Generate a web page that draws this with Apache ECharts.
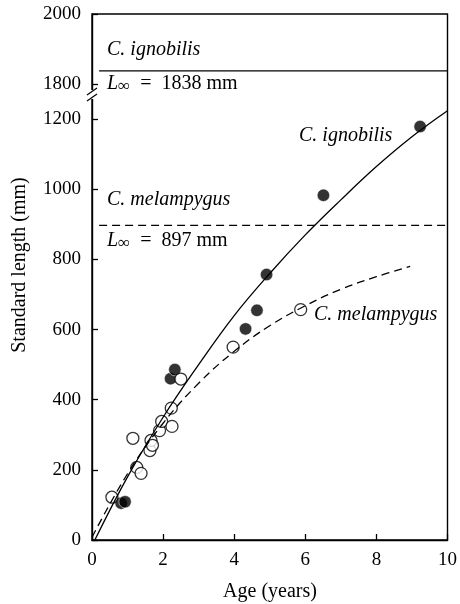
<!DOCTYPE html>
<html>
<head>
  <meta charset="utf-8">
  <title>Growth curves</title>
  <script src="https://cdn.jsdelivr.net/npm/echarts@6/dist/echarts.min.js"></script>
  <style>
    html, body { margin: 0; padding: 0; background: #fff; }
    #main { width: 460px; height: 604px; }
  </style>
</head>
<body>
  <div id="main"></div>
  <script>
    // observed fish (age in years, standard length in mm)
    var ignobilisAge = [0.82, 0.93, 2.21, 2.33, 4.32, 4.64, 4.91, 6.51, 9.23];
    var ignobilisLen = [105, 109, 460, 486, 602, 655, 757, 983, 1179];
    var melampygusAge = [0.56, 1.15, 1.26, 1.38, 1.63, 1.66, 1.70, 1.90, 1.96, 2.23, 2.25, 2.50, 3.97, 5.87];
    var melampygusLen = [122, 290, 207, 190, 255, 284, 270, 312, 338, 376, 324, 459, 550, 657];

    // fitted growth curves
    var ignobilisCurveAge = [0.08, 1, 2, 3, 4, 5, 6, 7, 8, 9, 10];
    var ignobilisCurveLen = [0, 180, 350, 500, 640, 760, 870, 970, 1065, 1150, 1224];
    var melampygusCurveAge = [0, 1, 2, 3, 4, 5, 6, 7, 8, 8.95];
    var melampygusCurveLen = [8, 189, 333, 447, 538, 611, 668, 715, 751, 780];

    // asymptotic lengths
    var ignobilisLinf = 1838;
    var melampygusLinf = 897;
    var linfAge = [0.2, 10];

    var yTicks = [0, 200, 400, 600, 800, 1000, 1200, 1800, 2000];
    var xTicks = [0, 2, 4, 6, 8, 10];

    // y axis is broken between 1250 and 1750 mm
    var BREAK_LO = 1250, BREAK_SHIFT = 500;
    function toAxis(v) { return v > BREAK_LO ? v - BREAK_SHIFT : v; }
    function fromAxis(v) { return v > BREAK_LO ? v + BREAK_SHIFT : v; }
    function pairs(xs, ys) {
      return xs.map(function (x, i) { return [x, toAxis(ys[i])]; });
    }

    var serif = '"Liberation Serif", "DejaVu Serif", serif';
    var chart = echarts.init(document.getElementById('main'), null, { renderer: 'canvas' });

    var option = {
      animation: false,
      backgroundColor: '#fff',
      grid: {
        left: 92, right: 11, top: 14, bottom: 64,
        show: true, borderColor: '#000', borderWidth: 1.4, backgroundColor: 'transparent'
      },
      xAxis: {
        type: 'value', min: 0, max: 10, interval: 2,
        axisLine: { lineStyle: { color: '#000', width: 1.4 } },
        axisTick: { inside: true, length: 6, lineStyle: { color: '#000', width: 1.3 } },
        axisLabel: { margin: 11, color: '#000', fontSize: 19, fontFamily: serif,
          customValues: xTicks },
        splitLine: { show: false }
      },
      yAxis: {
        type: 'value', min: 0, max: toAxis(2000), interval: 100,
        axisLine: { show: true, lineStyle: { color: '#000', width: 1.4 } },
        axisTick: { inside: true, length: 6, lineStyle: { color: '#000', width: 1.3 },
          customValues: yTicks.map(toAxis) },
        axisLabel: { margin: 11, color: '#000', fontSize: 19, fontFamily: serif,
          customValues: yTicks.map(toAxis),
          formatter: function (v) { return String(fromAxis(v)); } },
        splitLine: { show: false }
      },
      series: [
        {
          type: 'line', silent: true, symbol: 'none',
          data: pairs(linfAge, [ignobilisLinf, ignobilisLinf]),
          lineStyle: { color: '#000', width: 1.3 }
        },
        {
          type: 'line', silent: true, symbol: 'none',
          data: pairs(linfAge, [melampygusLinf, melampygusLinf]),
          lineStyle: { color: '#000', width: 1.3, type: [8, 5] }
        },
        {
          type: 'line', silent: true, symbol: 'none', smooth: 0.4,
          data: pairs(ignobilisCurveAge, ignobilisCurveLen),
          lineStyle: { color: '#000', width: 1.3 }
        },
        {
          type: 'line', silent: true, symbol: 'none', smooth: 0.4,
          data: pairs(melampygusCurveAge, melampygusCurveLen),
          lineStyle: { color: '#000', width: 1.3, type: [8, 5] }
        },
        {
          type: 'scatter', silent: true, symbol: 'circle', symbolSize: 12.5,
          data: pairs(ignobilisAge, ignobilisLen),
          itemStyle: { color: '#000', borderColor: '#fff', borderWidth: 0.7 }
        },
        {
          type: 'scatter', silent: true, symbol: 'circle', symbolSize: 12,
          data: pairs(melampygusAge, melampygusLen),
          itemStyle: { color: '#fff', borderColor: '#000', borderWidth: 1.3 }
        }
      ]
    };
    chart.setOption(option);

    // texts and the axis break mark
    var txt = function (x, y, text, extra) {
      var s = { x: x, y: y, text: text, fill: '#000', font: '20px ' + serif,
        textVerticalAlign: 'middle', textAlign: 'left' };
      for (var k in extra) s[k] = extra[k];
      return { type: 'text', z: 100, silent: true, style: s };
    };
    var linfRich = {
      i: { fontStyle: 'italic', fontSize: 20, fontFamily: serif },
      s: { fontSize: 17, fontFamily: serif, verticalAlign: 'bottom', padding: [5, 0, 0, 0] },
      n: { fontSize: 20, fontFamily: serif }
    };
    chart.setOption({
      graphic: [
        { type: 'rect', z: 100, silent: true, shape: { x: 89, y: 90, width: 7, height: 9 },
          style: { fill: '#fff' } },
        { type: 'line', z: 101, silent: true, shape: { x1: 87, y1: 95, x2: 97, y2: 88 },
          style: { stroke: '#000', lineWidth: 1.2 } },
        { type: 'line', z: 101, silent: true, shape: { x1: 87, y1: 101, x2: 97, y2: 94 },
          style: { stroke: '#000', lineWidth: 1.2 } },
        txt(107, 50, 'C. ignobilis', { font: 'italic 20px ' + serif }),
        txt(107, 84, '{i|L}{s|∞}{n|  =  1838 mm}', { rich: linfRich }),
        txt(107, 200, 'C. melampygus', { font: 'italic 20px ' + serif }),
        txt(107, 241, '{i|L}{s|∞}{n|  =  897 mm}', { rich: linfRich }),
        txt(299, 136, 'C. ignobilis', { font: 'italic 20px ' + serif }),
        txt(314, 315, 'C. melampygus', { font: 'italic 20px ' + serif }),
        txt(270, 592, 'Age (years)', { textAlign: 'center' }),
        { type: 'text', z: 100, silent: true, x: 20, y: 265, rotation: Math.PI / 2,
          style: { text: 'Standard length (mm)', fill: '#000', font: '20px ' + serif,
            textAlign: 'center', textVerticalAlign: 'middle' } }
      ]
    });
  </script>
</body>
</html>
